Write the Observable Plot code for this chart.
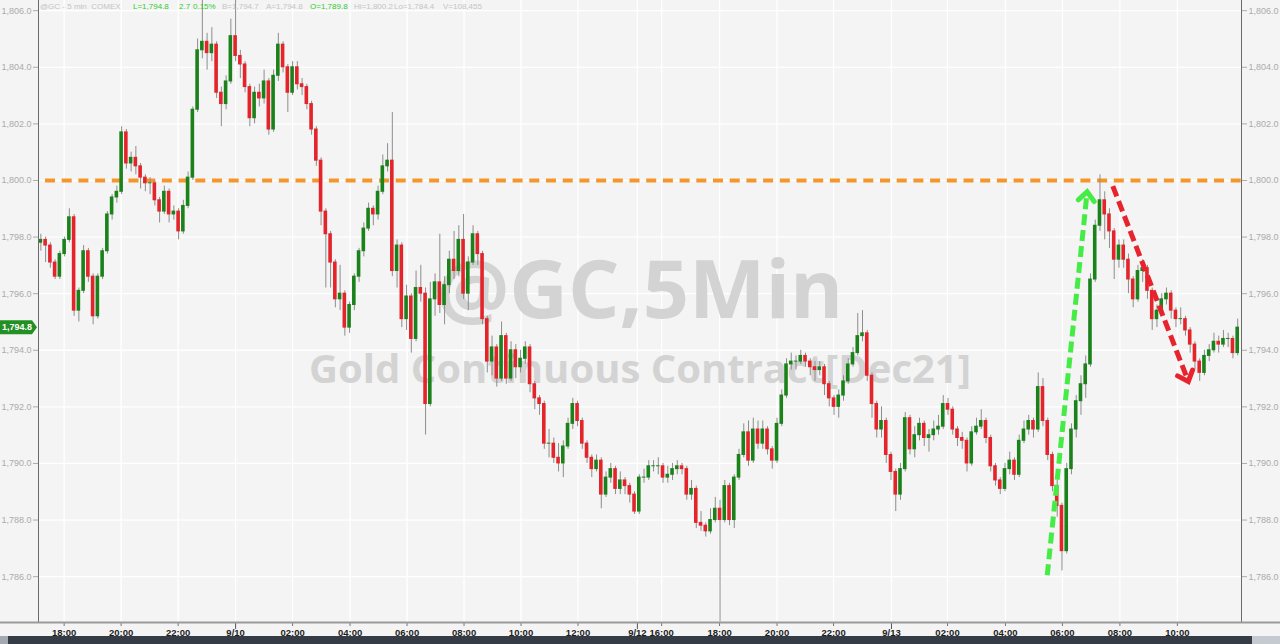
<!DOCTYPE html>
<html>
<head>
<meta charset="utf-8">
<script src="https://cdn.jsdelivr.net/npm/d3@7"></script>
<script src="https://cdn.jsdelivr.net/npm/@observablehq/plot@0.6"></script>
<style>
html,body{margin:0;padding:0;background:#f4f4f4;}
#wrap{position:relative;width:1280px;height:644px;overflow:hidden;background:#f4f4f4;}
#chart svg{display:block;}
.hd{position:absolute;top:2px;font:8px "Liberation Sans",Arial,sans-serif;color:#c4c4c4;white-space:pre;line-height:10px;}
.hd.g{color:#2fcc2f;}
.sb{position:absolute;top:636px;height:8px;}
</style>
</head>
<body>
<div id="wrap">
  <div id="chart"></div>
  <div id="hdr"></div>
  <div class="sb" style="left:0;width:8px;background:#a4a9b1"></div>
  <div class="sb" style="left:8px;width:1244px;background:#363c45"></div>
  <div class="sb" style="left:1252px;width:28px;background:#c5c9d0"></div>
</div>
<script>
// ---- 10-minute OHLC candles ----
const o = [
1797.8,1797.9,1797.7,1797.1,1796.6,1797.4,1797.9,1798.7,1795.4,1796.1,
1797.5,1796.6,1795.2,1796.6,1797.5,1798.8,1799.4,1799.6,1801.7,1800.6,
1800.8,1800.5,1800.1,1799.9,1799.9,1799.3,1798.9,1799.6,1798.8,1798.9,
1798.2,1799.1,1800.1,1802.5,1804.6,1804.9,1804.5,1804.8,1803.1,1802.7,
1803.5,1805.1,1804.4,1804.1,1803.3,1802.2,1803.1,1802.9,1803.5,1801.8,
1803.7,1804.8,1804.0,1803.1,1804.0,1803.4,1803.3,1802.7,1801.8,1800.7,
1798.9,1798.1,1797.1,1795.8,1796.0,1794.8,1795.6,1796.6,1797.5,1798.3,
1799.0,1798.8,1799.6,1800.5,1800.7,1796.8,1797.7,1795.1,1795.9,1794.4,
1796.2,1796.0,1792.1,1795.8,1796.4,1795.6,1796.3,1797.2,1796.8,1797.9,
1796.0,1797.1,1798.1,1797.4,1795.1,1793.6,1794.1,1793.0,1794.5,1793.0,
1794.0,1793.4,1793.7,1794.1,1792.8,1792.3,1792.1,1790.7,1790.7,1790.2,
1790.0,1790.6,1791.4,1792.1,1791.5,1790.7,1790.2,1789.8,1790.1,1788.9,
1789.5,1789.8,1789.1,1789.4,1789.2,1788.9,1788.3,1789.5,1789.5,1789.9,
1789.9,1789.9,1789.5,1789.6,1789.8,1789.9,1789.8,1788.9,1789.1,1787.9,
1787.8,1787.6,1788.0,1788.4,1788.0,1789.2,1788.0,1789.5,1790.3,1791.1,
1790.1,1791.2,1790.7,1791.2,1790.5,1790.1,1791.4,1792.4,1793.5,1793.6,
1793.6,1793.8,1793.6,1793.4,1793.3,1793.4,1792.8,1792.3,1792.0,1792.4,
1792.9,1793.5,1793.9,1794.5,1794.6,1793.1,1792.1,1791.2,1791.5,1790.3,
1789.7,1788.9,1789.8,1791.6,1790.5,1791.0,1791.4,1790.9,1791.0,1791.2,
1791.3,1792.1,1791.9,1791.2,1790.9,1790.8,1790.0,1791.1,1791.3,1791.5,
1790.9,1789.9,1789.4,1789.1,1789.8,1790.1,1789.6,1790.8,1791.2,1791.5,
1791.2,1792.7,1791.5,1790.3,1789.2,1788.5,1786.9,1789.8,1791.2,1792.2,
1792.8,1793.5,1796.5,1798.4,1799.3,1798.8,1798.2,1797.2,1797.7,1797.2,
1796.5,1795.8,1796.8,1796.9,1796.1,1795.1,1795.4,1795.8,1796.0,1795.4,
1795.1,1795.1,1794.7,1794.2,1793.6,1793.2,1793.8,1794.0,1794.3,1794.2,
1794.4,1794.4,1793.9];
const h = [
1798.1,1798.0,1797.8,1797.2,1797.5,1798.0,1799.0,1798.8,1796.2,1797.7,
1797.6,1796.7,1796.7,1797.6,1798.9,1799.5,1799.8,1801.9,1801.8,1801.0,
1801.2,1800.6,1800.2,1800.1,1800.0,1799.4,1799.8,1799.7,1799.1,1799.0,
1799.3,1800.3,1802.6,1805.0,1806.6,1805.2,1805.4,1804.9,1803.3,1803.7,
1805.7,1806.6,1804.6,1804.2,1803.4,1803.3,1803.4,1803.9,1803.6,1803.9,
1805.2,1804.9,1804.1,1804.2,1804.2,1803.6,1803.4,1802.8,1801.9,1800.8,
1799.0,1798.2,1797.2,1797.0,1796.1,1795.7,1796.7,1797.6,1798.5,1799.2,
1799.1,1799.8,1800.9,1801.3,1802.4,1797.9,1797.8,1796.3,1796.0,1796.8,
1797.0,1796.2,1796.4,1796.7,1798.1,1796.6,1797.5,1798.2,1798.4,1798.8,
1797.3,1798.4,1798.2,1797.5,1795.2,1794.5,1794.2,1795.0,1794.6,1794.3,
1794.2,1794.0,1794.3,1794.2,1792.9,1792.4,1792.2,1791.2,1790.9,1790.7,
1790.8,1791.6,1792.3,1792.2,1791.6,1790.8,1790.3,1790.3,1790.2,1789.7,
1790.0,1789.9,1789.7,1789.5,1789.3,1789.0,1789.6,1789.8,1790.1,1790.1,
1790.2,1790.0,1789.9,1790.0,1790.1,1790.0,1789.9,1789.4,1789.2,1788.3,
1787.9,1788.4,1788.8,1788.7,1789.4,1789.3,1789.6,1790.5,1791.4,1791.5,
1791.6,1791.5,1791.5,1791.3,1790.6,1791.6,1792.6,1793.7,1793.9,1793.8,
1794.0,1793.9,1793.7,1793.6,1793.6,1793.5,1792.9,1792.4,1792.6,1793.1,
1793.7,1794.1,1795.3,1795.4,1794.7,1793.2,1792.2,1792.0,1791.6,1790.4,
1789.8,1790.0,1791.8,1791.7,1791.3,1791.6,1791.5,1791.2,1791.5,1791.7,
1792.4,1792.3,1792.0,1791.3,1791.1,1790.9,1791.3,1791.6,1791.9,1791.6,
1791.0,1790.0,1789.5,1790.0,1790.4,1790.2,1791.0,1791.5,1791.7,1791.6,
1793.2,1793.0,1791.6,1790.4,1789.4,1788.6,1790.0,1791.4,1792.4,1793.1,
1793.8,1796.7,1798.6,1800.2,1799.6,1799.0,1798.3,1797.9,1797.9,1797.4,
1796.6,1797.0,1797.2,1797.0,1796.2,1795.6,1796.0,1796.2,1796.1,1795.5,
1795.5,1795.2,1794.8,1794.3,1793.7,1794.0,1794.2,1794.6,1794.5,1794.7,
1794.6,1794.5,1795.1];
const l = [
1797.5,1797.1,1796.9,1796.5,1796.5,1797.3,1797.8,1795.2,1795.0,1796.0,
1796.4,1794.9,1795.1,1796.5,1797.4,1798.6,1799.2,1799.5,1800.4,1800.3,
1800.2,1799.7,1799.6,1799.5,1799.1,1798.5,1798.8,1798.5,1798.6,1797.9,
1798.1,1799.0,1800.0,1802.4,1804.3,1803.9,1804.2,1802.9,1801.9,1802.5,
1803.4,1804.2,1803.6,1803.1,1801.9,1802.0,1802.6,1802.7,1801.6,1801.7,
1803.5,1803.8,1802.4,1803.0,1803.2,1803.0,1802.5,1801.6,1800.5,1798.4,
1796.2,1796.2,1795.5,1795.4,1794.5,1794.6,1795.4,1796.4,1797.3,1798.2,
1798.4,1798.6,1799.5,1800.3,1796.6,1796.2,1794.8,1794.7,1793.9,1794.3,
1795.7,1791.0,1792.0,1795.2,1795.3,1794.9,1796.0,1796.5,1796.6,1795.8,
1795.4,1797.0,1797.0,1794.9,1793.2,1793.1,1792.7,1792.9,1792.8,1792.9,
1793.0,1793.2,1793.5,1792.5,1791.9,1791.7,1790.5,1790.2,1790.0,1789.7,
1789.5,1790.5,1791.2,1791.3,1790.5,1790.0,1789.5,1789.7,1788.4,1788.8,
1789.3,1788.9,1788.9,1788.9,1788.6,1788.2,1788.2,1789.3,1789.4,1789.7,
1789.6,1789.3,1789.3,1789.4,1789.6,1789.6,1788.7,1788.7,1787.7,1787.6,
1787.4,1787.5,1787.9,1784.4,1787.9,1787.8,1787.7,1789.4,1790.2,1789.9,
1790.0,1790.5,1790.5,1790.3,1789.8,1790.0,1791.3,1792.3,1793.3,1793.3,
1793.5,1793.4,1793.1,1792.9,1793.1,1792.4,1792.0,1791.7,1791.6,1792.2,
1792.8,1793.4,1793.8,1794.3,1792.9,1791.6,1790.9,1790.9,1790.0,1789.4,
1788.3,1788.7,1789.7,1790.3,1790.2,1790.8,1790.6,1790.4,1790.8,1791.0,
1791.2,1791.7,1791.0,1790.6,1790.5,1789.7,1789.9,1791.0,1791.2,1790.7,
1789.7,1789.2,1788.9,1789.0,1789.6,1789.4,1789.5,1790.7,1791.0,1790.9,
1791.1,1791.3,1790.1,1789.0,1788.1,1786.2,1786.8,1789.6,1790.9,1791.7,
1792.3,1793.4,1796.4,1798.2,1797.9,1797.6,1796.5,1796.9,1796.9,1796.0,
1795.5,1795.7,1796.4,1795.8,1794.7,1794.8,1795.2,1795.6,1795.1,1794.8,
1794.9,1794.5,1793.9,1793.3,1792.9,1793.1,1793.6,1793.9,1793.9,1794.1,
1794.1,1793.7,1793.8];
const c = [
1797.9,1797.7,1797.1,1796.6,1797.4,1797.9,1798.7,1795.4,1796.1,1797.5,
1796.6,1795.2,1796.6,1797.5,1798.8,1799.4,1799.6,1801.7,1800.6,1800.8,
1800.5,1800.1,1799.9,1799.9,1799.3,1798.9,1799.6,1798.8,1798.9,1798.2,
1799.1,1800.1,1802.5,1804.6,1804.9,1804.5,1804.8,1803.1,1802.7,1803.5,
1805.1,1804.4,1804.1,1803.3,1802.2,1803.1,1802.9,1803.5,1801.8,1803.7,
1804.8,1804.0,1803.1,1804.0,1803.4,1803.3,1802.7,1801.8,1800.7,1798.9,
1798.1,1797.1,1795.8,1796.0,1794.8,1795.6,1796.6,1797.5,1798.3,1799.0,
1798.8,1799.6,1800.5,1800.7,1796.8,1797.7,1795.1,1795.9,1794.4,1796.2,
1796.0,1792.1,1795.8,1796.4,1795.6,1796.3,1797.2,1796.8,1797.9,1796.0,
1797.1,1798.1,1797.4,1795.1,1793.6,1794.1,1793.0,1794.5,1793.0,1794.0,
1793.4,1793.7,1794.1,1792.8,1792.3,1792.1,1790.7,1790.7,1790.2,1790.0,
1790.6,1791.4,1792.1,1791.5,1790.7,1790.2,1789.8,1790.1,1788.9,1789.5,
1789.8,1789.1,1789.4,1789.2,1788.9,1788.3,1789.5,1789.5,1789.9,1789.9,
1789.9,1789.5,1789.6,1789.8,1789.9,1789.8,1788.9,1789.1,1787.9,1787.8,
1787.6,1788.0,1788.4,1788.0,1789.2,1788.0,1789.5,1790.3,1791.1,1790.1,
1791.2,1790.7,1791.2,1790.5,1790.1,1791.4,1792.4,1793.5,1793.6,1793.6,
1793.8,1793.6,1793.4,1793.3,1793.4,1792.8,1792.3,1792.0,1792.4,1792.9,
1793.5,1793.9,1794.5,1794.6,1793.1,1792.1,1791.2,1791.5,1790.3,1789.7,
1788.9,1789.8,1791.6,1790.5,1791.0,1791.4,1790.9,1791.0,1791.2,1791.3,
1792.1,1791.9,1791.2,1790.9,1790.8,1790.0,1791.1,1791.3,1791.5,1790.9,
1789.9,1789.4,1789.1,1789.8,1790.1,1789.6,1790.8,1791.2,1791.5,1791.2,
1792.7,1791.5,1790.3,1789.2,1788.5,1786.9,1789.8,1791.2,1792.2,1792.8,
1793.5,1796.5,1798.4,1799.3,1798.8,1798.2,1797.2,1797.7,1797.2,1796.5,
1795.8,1796.8,1796.9,1796.1,1795.1,1795.4,1795.8,1796.0,1795.4,1795.1,
1795.1,1794.7,1794.2,1793.6,1793.2,1793.8,1794.0,1794.3,1794.2,1794.4,
1794.4,1793.9,1794.8];

// x-axis: candle positions (10-minute slots) and their labels
const xTickPos   = [5.4, 17.4, 29.4, 41.5, 53.5, 65.6, 77.6, 89.6, 101.6, 113.6, 126.1, 131.2, 143.4, 155.5, 167.4, 179.6, 191.4, 203.6, 215.6, 227.7, 239.8];
const xTickLabel = ["18:00","20:00","22:00","9/10","02:00","04:00","06:00","08:00","10:00","12:00","9/12","16:00","18:00","20:00","22:00","9/13","02:00","04:00","06:00","08:00","10:00"];
const xDomain = [0, 253.3];
// y-axis
const yTicks = [1786, 1788, 1790, 1792, 1794, 1796, 1798, 1800, 1802, 1804, 1806];
const yDomain = [1784.38, 1806.36];
// resistance level
const levelPrice = [1800];
// annotation arrows (slot, price)
const arrowGreen = [{x1: 212.4, y1: 1786.05, x2: 220.8, y2: 1799.6}];
const arrowRed   = [{x1: 226.2, y1: 1799.8,  x2: 242.1, y2: 1792.9}];
// header / watermark text
const wmTitle = "@GC,5Min";
const wmSub = "Gold Continuous Contract[Dec21]";
const headerParts = [
  {t:"@GC - 5 min  COMEX", x:40, g:false},
  {t:"L=1,794.8", x:133, g:true},
  {t:"2.7", x:179, g:true},
  {t:"0.15%", x:193, g:true},
  {t:"B=1,794.7", x:222, g:false},
  {t:"A=1,794.8", x:266, g:false},
  {t:"O=1,789.8", x:310, g:true},
  {t:"Hi=1,800.2", x:354, g:false},
  {t:"Lo=1,784.4", x:394, g:false},
  {t:"V=108,455", x:443, g:false}
];

const candles = c.map((v, i) => ({i, open: o[i], high: h[i], low: l[i], close: v}));
const up = candles.filter(d => d.close >= d.open);
const down = candles.filter(d => d.close < d.open);
const xTicks = xTickPos.map((p, i) => ({pos: p, label: xTickLabel[i], major: xTickLabel[i].includes("/")}));
const lastPrice = c[c.length - 1];

const GREEN = "#1b821b", RED = "#e3252b", ARROW_G = "#45ec45", ARROW_R = "#e8232d";
const chevron = {draw(ctx, len) { ctx.moveTo(-8, -len + 9); ctx.lineTo(0, -len); ctx.lineTo(8, -len + 9); }};

function build(heads) {
  return Plot.plot({
    width: 1280, height: 636,
    marginLeft: 38, marginRight: 39, marginTop: 0, marginBottom: 14,
    style: {background: "#f4f4f4", fontFamily: "'Liberation Sans', Arial, sans-serif", overflow: "visible"},
    x: {domain: xDomain, axis: null},
    y: {domain: yDomain},
    marks: [
      Plot.ruleY(yTicks, {stroke: "#ffffff", strokeWidth: 1.3}),
      Plot.ruleX(xTickPos, {stroke: "#ffffff", strokeWidth: 1.3}),
      Plot.text([wmTitle], {text: d => d, frameAnchor: "middle", dy: -19, fontSize: 81, fontWeight: 700, fontFamily: "'Open Sans', sans-serif", fill: "#d3d3d3"}),
      Plot.text([wmSub], {text: d => d, frameAnchor: "middle", dy: 59, fontSize: 40, fontWeight: 700, fontFamily: "'Open Sans', sans-serif", fill: "#d3d3d3"}),
      Plot.ruleY(levelPrice, {stroke: "#f5962c", strokeWidth: 4, strokeDasharray: "10,6.7", strokeDashoffset: 9.7}),
      Plot.ruleX(candles, {x: d => d.i + 0.5, y1: "low", y2: "high", stroke: "#8d8d8d", strokeWidth: 1}),
      Plot.rect(up, {x1: d => d.i + 0.12, x2: d => d.i + 0.88, y1: "open", y2: "close", fill: GREEN, insetTop: -0.5, insetBottom: -0.5}),
      Plot.rect(down, {x1: d => d.i + 0.12, x2: d => d.i + 0.88, y1: "open", y2: "close", fill: RED, insetTop: -0.5, insetBottom: -0.5}),
      Plot.link(arrowGreen, {x1: "x1", y1: "y1", x2: "x2", y2: "y2", stroke: ARROW_G, strokeWidth: 5, strokeDasharray: "11,5"}),
      Plot.link(arrowRed, {x1: "x1", y1: "y1", x2: "x2", y2: "y2", stroke: ARROW_R, strokeWidth: 5, strokeDasharray: "11,5"}),
      heads ? Plot.vector(heads.filter(d => d.g), {x: "x", y: "y", rotate: "rot", length: 12, anchor: "end", shape: chevron, stroke: ARROW_G, strokeWidth: 5, strokeLinejoin: "miter"}) : null,
      heads ? Plot.vector(heads.filter(d => !d.g), {x: "x", y: "y", rotate: "rot", length: 12, anchor: "end", shape: chevron, stroke: ARROW_R, strokeWidth: 5, strokeLinejoin: "miter"}) : null,
      Plot.ruleX([xDomain[0], xDomain[1]], {stroke: "#6a6a6a", strokeWidth: 1}),
      Plot.axisY(yTicks, {anchor: "left", tickFormat: d3.format(",.1f"), tickSize: 5, tickPadding: 2, fontSize: 9, color: "#ababab", label: null}),
      Plot.axisY(yTicks, {anchor: "right", tickFormat: d3.format(",.1f"), tickSize: 5, tickPadding: 2, fontSize: 9, color: "#ababab", label: null}),
      Plot.ruleX(xTicks.filter(d => !d.major), {x: "pos", insetTop: 618, dy: 4, stroke: "#777"}),
      Plot.ruleX(xTicks.filter(d => d.major), {x: "pos", insetTop: 615, dy: 7, stroke: "#555"}),
      Plot.text(xTicks, {x: "pos", text: "label", frameAnchor: "bottom", lineAnchor: "middle", dy: 10, fontSize: 9.5, fontWeight: 700, fill: "#1c1c1c"})
    ]
  });
}

// first pass: read Plot's scales to orient the arrowheads along each shaft (in screen space)
const probe = build(null);
const pxs = probe.scale("x"), pys = probe.scale("y");
const heads = [...arrowGreen.map(d => ({...d, g: true})), ...arrowRed.map(d => ({...d, g: false}))].map(d => {
  const dx = pxs.apply(d.x2) - pxs.apply(d.x1), dy = pys.apply(d.y2) - pys.apply(d.y1);
  return {x: d.x2, y: d.y2, rot: Math.atan2(dx, -dy) * 180 / Math.PI, g: d.g};
});
const chart = build(heads);
document.getElementById("chart").appendChild(chart);

// bottom axis line across the full width, and last-price tag, positioned with Plot's scales
const ys = chart.scale("y");
const svg = d3.select(chart);
const yBottom = ys.apply(yDomain[0]);
svg.append("line").attr("x1", 0).attr("x2", 1280).attr("y1", yBottom + 0.5).attr("y2", yBottom + 0.5)
  .attr("stroke", "#9a9a9a").attr("stroke-width", 2);
const yp = ys.apply(lastPrice);
const tag = svg.append("g");
tag.append("path").attr("d", `M0,${yp - 7}H32L37,${yp}L32,${yp + 7}H0Z`).attr("fill", "#229022");
tag.append("text").attr("x", 17).attr("y", yp).attr("dy", "0.35em").attr("text-anchor", "middle")
  .attr("fill", "#ffffff").attr("font-size", 9).attr("font-weight", 700)
  .attr("font-family", "'Liberation Sans', Arial, sans-serif").text(d3.format(",.1f")(lastPrice));

// header
const hdr = document.getElementById("hdr");
headerParts.forEach(p => {
  const s = document.createElement("span");
  s.className = "hd" + (p.g ? " g" : "");
  s.style.left = p.x + "px";
  s.textContent = p.t;
  hdr.appendChild(s);
});
</script>
</body>
</html>
